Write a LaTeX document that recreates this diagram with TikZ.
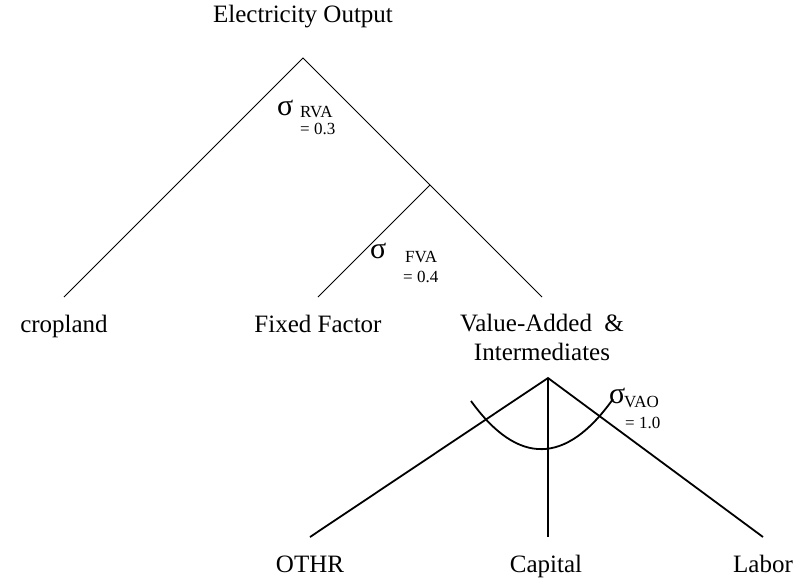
\documentclass[tikz,border=0pt]{standalone}
\usepackage{fontspec}
\setmainfont{Liberation Serif}
\newcommand{\lbl}{\fontsize{25}{29}\selectfont}
\newcommand{\sml}{\fontsize{17}{19}\selectfont}
\newcommand{\eqs}{\fontsize{17}{19}\selectfont}
\newcommand{\sg}{{\fontsize{30}{30}\selectfont σ}}

\begin{document}
\begin{tikzpicture}[x=1pt,y=-1pt,
	lab/.style={font=\lbl, align=center, inner xsep=0pt, inner ysep=17pt, anchor=north},
	onelab/.style={lab, text height=18pt, text depth=6pt},
	tag/.style={anchor=base west, inner sep=0pt},
	upline/.style={line width=0.8pt},
	lowline/.style={line width=1.8pt}]
\useasboundingbox (0,0) rectangle (798,581);
\coordinate (top) at (303,58);
\coordinate (mid) at (430,185);
\coordinate (low) at (548,378);
%
\node[font=\lbl, anchor=base] (elec) at (303,22) {Electricity Output};
\node[onelab] (crop) at (64,297) {cropland};
\node[onelab] (fix) at (318,297) {Fixed Factor};
\node[lab] (va) at (542,297) {Value-Added\ \ \&\\Intermediates};
\node[onelab] (othr) at (310,537) {OTHR};
\node[onelab] (cap) at (546,537) {Capital};
\node[onelab] (lab) at (763,537) {Labor};
%
\draw[upline] (crop.north) -- (top) -- (va.north);
\draw[upline] (mid) -- (fix.north);
\draw[lowline] (othr.north) -- (low) -- (lab.north);
\draw[lowline] (low) -- (low |- cap.north);
\draw[lowline] (471,401) .. controls (518,466) and (566,465) .. (613,399);
%
\node[tag] (sRVA) at (277,115) {\sg};
\node[tag, font=\sml] (nRVA) at (300,117) {RVA};
\node[tag, font=\eqs] (vRVA) at (300,134) {= 0.3};
\node[tag] (sFVA) at (370,258) {\sg};
\node[tag, font=\sml] (nFVA) at (405,262) {FVA};
\node[tag, font=\eqs] (vFVA) at (403,282) {= 0.4};
\node[tag] (sVAO) at (609,403) {\sg};
\node[tag, font=\sml] (nVAO) at (624,407) {VAO};
\node[tag, font=\eqs] (vVAO) at (625,428) {= 1.0};
\end{tikzpicture}
\end{document}
